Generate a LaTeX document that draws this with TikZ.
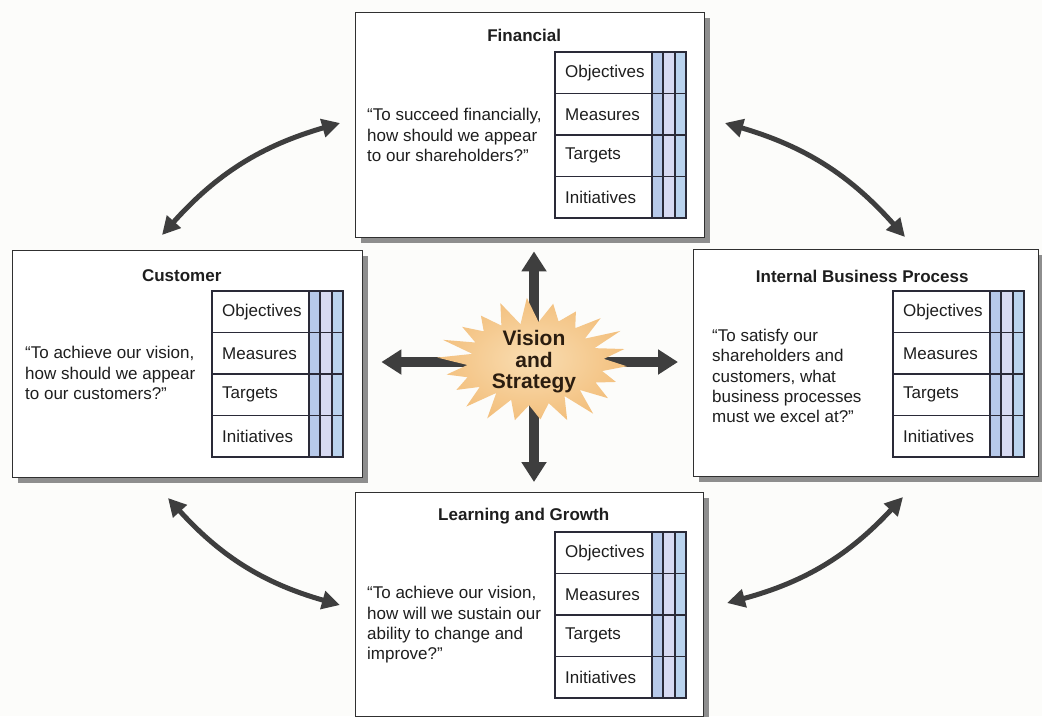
\documentclass[tikz,border=0pt]{standalone}
\usepackage{fontspec}
\setmainfont{Liberation Sans}
\usetikzlibrary{arrows.meta,shadows,calc}
\pgfdeclarelayer{bg}
\pgfdeclarelayer{background}
\pgfsetlayers{bg,background,main}

\definecolor{pagebg}{HTML}{FCFCFA}
\definecolor{boxline}{HTML}{303030}
\definecolor{shadowgray}{HTML}{8E8E8E}
\definecolor{colA}{HTML}{B7C9EA}
\definecolor{colB}{HTML}{D7DAF2}
\definecolor{colC}{HTML}{BAD3EE}
\definecolor{tableline}{HTML}{2A2A38}
\definecolor{arrowgray}{HTML}{3E3E3E}
\definecolor{burstout}{HTML}{F3C07E}
\definecolor{burstin}{HTML}{F9DDB2}
\definecolor{inktext}{HTML}{1E1E1E}
\definecolor{bursttext}{HTML}{2B1D10}

\tikzset{
  bscbox/.style={draw=boxline, line width=1.4pt, fill=white, anchor=north west,
    inner sep=0pt,
    drop shadow={shadow xshift=5pt, shadow yshift=-5pt, fill=shadowgray, opacity=1}},
  boxtitle/.style={font=\fontsize{17}{20}\selectfont\bfseries, text=inktext},
  quotetext/.style={font=\fontsize{17}{20.3}\selectfont, align=left, anchor=west,
    inner sep=0pt, text=inktext},
  rowlabel/.style={font=\fontsize{17}{20}\selectfont, anchor=west, inner sep=0pt,
    text=inktext},
  linkarrow/.style={arrowgray, line width=5pt,
    {Triangle[length=18pt,width=18pt]}-{Triangle[length=18pt,width=18pt]}},
  fatarrow/.style={arrowgray, line width=10pt, -{Triangle[length=20pt,width=24pt]}},
  bsctable/.pic={
    \fill[colA] (97,0) rectangle (108,166);
    \fill[colB] (108,0) rectangle (120,166);
    \fill[colC] (120,0) rectangle (131,166);
    \draw[tableline, line width=1.3pt] (0,0) rectangle (131,166)
      (0,41.5) -- (131,41.5) (0,83) -- (131,83) (0,124.5) -- (131,124.5)
      (97,0) -- (97,166) (108,0) -- (108,166) (120,0) -- (120,166);
    \node[rowlabel] (-o) at (10,20.75) {Objectives};
    \node[rowlabel] (-m) at (10,62.25) {Measures};
    \node[rowlabel] (-t) at (10,103.75) {Targets};
    \node[rowlabel] (-i) at (10,145.25) {Initiatives};
  }
}

\begin{document}
\begin{tikzpicture}[x=1pt, y=-1pt]
\useasboundingbox (0,0) rectangle (1042,716);
\begin{pgfonlayer}{bg}
  \fill[pagebg] (0,0) rectangle (1042,716);
\end{pgfonlayer}

% the four perspective boxes
\node[bscbox, minimum width=349pt, minimum height=225pt] (fin)  at (355,12)  {};
\node[bscbox, minimum width=350pt, minimum height=227pt] (cust) at (12,250)  {};
\node[bscbox, minimum width=345pt, minimum height=227pt] (ibp)  at (693,249) {};
\node[bscbox, minimum width=348pt, minimum height=224pt] (lg)   at (355,492) {};

% titles
\node[boxtitle] (fint)  at ($(fin.north)+(-6,23)$)  {Financial};
\node[boxtitle] (custt) at ($(cust.north)+(-6,26)$) {Customer};
\node[boxtitle] (ibpt)  at ($(ibp.north)+(-4,27)$)  {Internal Business Process};
\node[boxtitle] (lgt)   at ($(lg.north)+(-6,24)$)   {Learning and Growth};

% objective / measure / target / initiative tables
\pic (ftab) at (555,52)  {bsctable};
\pic (ctab) at (212,291) {bsctable};
\pic (itab) at (893,291) {bsctable};
\pic (ltab) at (555,532) {bsctable};

% guiding questions
\node[quotetext] (finq)  at (367,135) {“To succeed financially,\\how should we appear\\to our shareholders?”};
\node[quotetext] (custq) at (25,373)  {“To achieve our vision,\\how should we appear\\to our customers?”};
\node[quotetext] (ibpq)  at (712,376) {“To satisfy our\\shareholders and\\customers, what\\business processes\\must we excel at?”};
\node[quotetext] (lgq)   at (367,625) {“To achieve our vision,\\how will we sustain our\\ability to change and\\improve?”};

% central vision and strategy burst: a jagged ellipse of 22 points
\coordinate (sc) at (534,362);
\shade[inner color=burstin, outer color=burstout]
  plot[variable=\k, domain=0:43, samples=44]
    ({534 + (80 + 13*cos(\k*180))*(1 + 0.06*sin(\k*137))*cos(\k*360/44 + 4)},
     {362 + (51 + 10*cos(\k*180))*(1 + 0.06*sin(\k*137))*sin(\k*360/44 + 4)})
  -- cycle;
\node[font=\fontsize{21}{21.5}\selectfont\bfseries, align=center,
      text=bursttext, inner sep=0pt] (star) at (sc) {Vision\\and\\Strategy};

% arrows from the burst to each perspective
\begin{pgfonlayer}{background}
  \draw[fatarrow, shorten >=13pt] (star.center) -- (star.center |- fin.south);
  \draw[fatarrow, shorten >=10pt] (star.center) -- (star.center |- lg.north);
  \draw[fatarrow, shorten >=18pt] (star.center) -- (star.center -| cust.east);
  \draw[fatarrow, shorten >=15pt] (star.center) -- (star.center -| ibp.west);
\end{pgfonlayer}

% links between neighbouring perspectives
\coordinate (tl1) at (162,235);
\coordinate (tl2) at (340,123);
\coordinate (tr1) at (725,123);
\coordinate (tr2) at (905,237);
\coordinate (bl1) at (168,498);
\coordinate (bl2) at (340,605);
\coordinate (br1) at (727,603);
\coordinate (br2) at (903,497);
\draw[linkarrow] (tl1) to[bend left=16]  (tl2);
\draw[linkarrow] (tr1) to[bend left=16]  (tr2);
\draw[linkarrow] (bl1) to[bend right=16] (bl2);
\draw[linkarrow] (br1) to[bend right=16] (br2);
\end{tikzpicture}
\end{document}
